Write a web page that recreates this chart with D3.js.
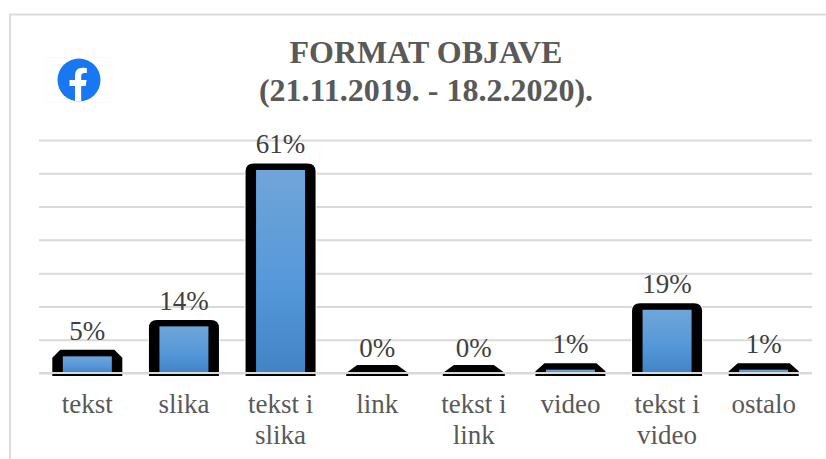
<!DOCTYPE html>
<html>
<head>
<meta charset="utf-8">
<script src="https://cdn.jsdelivr.net/npm/d3@7"></script>
<style>
    html, body { margin: 0; padding: 0; background: #fff; overflow: hidden; }
    svg { display: block; }
    text { font-family: "Liberation Serif", serif; }
</style>
</head>
<body>
<script>
const categories = ["tekst", "slika", "tekst i slika", "link", "tekst i link", "video", "tekst i video", "ostalo"];
const categoryLines = [["tekst"], ["slika"], ["tekst i", "slika"], ["link"], ["tekst i", "link"], ["video"], ["tekst i", "video"], ["ostalo"]];
const values = [5, 14, 61, 0, 0, 1, 19, 1];
const yTicks = [0, 10, 20, 30, 40, 50, 60, 70];
const titleLines = ["FORMAT OBJAVE", "(21.11.2019. - 18.2.2020)."];

const width = 826, height = 459;
const baseY = 373, topY = 140;

const svg = d3.select("body").append("svg")
    .attr("width", width)
    .attr("height", height);

const grad = svg.append("defs").append("linearGradient")
    .attr("id", "barFill")
    .attr("x1", 0).attr("y1", 0).attr("x2", 0).attr("y2", 1);
grad.append("stop").attr("offset", "0%").attr("stop-color", "#70a5d9");
grad.append("stop").attr("offset", "60%").attr("stop-color", "#5397d9");
grad.append("stop").attr("offset", "100%").attr("stop-color", "#4283c4");

// frame
svg.append("path")
    .attr("d", "M10,459V14.5H826")
    .attr("fill", "none")
    .attr("stroke", "#dcdcdc")
    .attr("stroke-width", 2);

const x = d3.scaleBand()
    .domain(categories)
    .range([39, 812]);

const y = d3.scaleLinear()
    .domain([0, 70])
    .range([baseY, topY]);

// gridlines through the axis
const yAxis = d3.axisLeft(y)
    .tickValues(yTicks)
    .tickSize(-(812 - 39))
    .tickFormat("");

const gridG = svg.append("g")
    .attr("transform", "translate(39,0)")
    .call(yAxis);
gridG.select(".domain").remove();
gridG.selectAll("line").attr("stroke", "#d9d9d9").attr("stroke-width", 2);

// black outline with cut corners, blue fill inside
function outline(d) {
    const cx = x(d) + x.bandwidth() / 2;
    const v = values[categories.indexOf(d)];
    const t = Math.min(y(v) - 6.5, 365);
    const b = baseY + 3;
    const half = v === 0 ? 31 : 35;
    const l = cx - half, r = cx + half;
    if (v >= 10) {
        const c = 8;
        return `M${l},${b}V${t + c}Q${l},${t} ${l + c},${t}H${r - c}Q${r},${t} ${r},${t + c}V${b}Z`;
    }
    const cw = v >= 5 ? 8 : v === 1 ? 9 : 11;
    const ch = Math.min(8, b - t - 2);
    return `M${l},${b}V${t + ch}L${l + cw},${t}H${r - cw}L${r},${t + ch}V${b}Z`;
}

const bars = svg.append("g").selectAll("g")
    .data(categories)
    .enter().append("g");

bars.append("path")
    .attr("d", outline)
    .attr("fill", "#000")
    .attr("stroke", "#fff")
    .attr("stroke-width", 2)
    .attr("paint-order", "stroke");

bars.append("rect")
    .attr("x", d => x(d) + x.bandwidth() / 2 - 24.5)
    .attr("y", (d, i) => y(values[i]))
    .attr("width", 49)
    .attr("height", (d, i) => baseY - y(values[i]))
    .attr("fill", "url(#barFill)");

// base line sits on top of the bars
svg.append("line")
    .attr("x1", 39).attr("x2", 812)
    .attr("y1", y(0)).attr("y2", y(0))
    .attr("stroke", "#d9d9d9")
    .attr("stroke-width", 2);

// value labels
svg.append("g").selectAll("text")
    .data(categories)
    .enter().append("text")
    .attr("x", d => x(d) + x.bandwidth() / 2)
    .attr("y", (d, i) => y(values[i]) - 16.5)
    .attr("text-anchor", "middle")
    .attr("font-size", 27)
    .attr("fill", "#404040")
    .text((d, i) => values[i] + "%");

// category labels
categories.forEach((c, i) => {
    categoryLines[i].forEach((line, j) => {
        svg.append("text")
            .attr("x", x(c) + x.bandwidth() / 2)
            .attr("y", 413 + j * 31)
            .attr("text-anchor", "middle")
            .attr("font-size", 27)
            .attr("fill", "#595959")
            .text(line);
    });
});

// title
titleLines.forEach((line, i) => {
    svg.append("text")
        .attr("x", 426)
        .attr("y", 63 + i * 38)
        .attr("text-anchor", "middle")
        .attr("font-size", 32)
        .attr("font-weight", "bold")
        .attr("fill", "#595959")
        .text(line);
});

// facebook logo
const logo = svg.append("g");
logo.append("rect")
    .attr("x", 46).attr("y", 57.5)
    .attr("width", 66).attr("height", 45)
    .attr("rx", 3)
    .attr("fill", "#fff")
    .attr("stroke", "#fafafa");
logo.append("circle")
    .attr("cx", 79).attr("cy", 80)
    .attr("r", 21.5)
    .attr("fill", "#1877f2");
logo.append("path")
    .attr("d", "M75,101V86H69.5V80H75V75.5C75,70.5 78,67.8 82.5,67.8C84.6,67.8 86.8,68.2 86.8,68.2V73H84.4C82,73 81.2,74.5 81.2,76V80H86.6L85.7,86H81.2V101.3C79.2,101.6 77,101.5 75,101Z")
    .attr("fill", "#fff");
</script>
</body>
</html>
